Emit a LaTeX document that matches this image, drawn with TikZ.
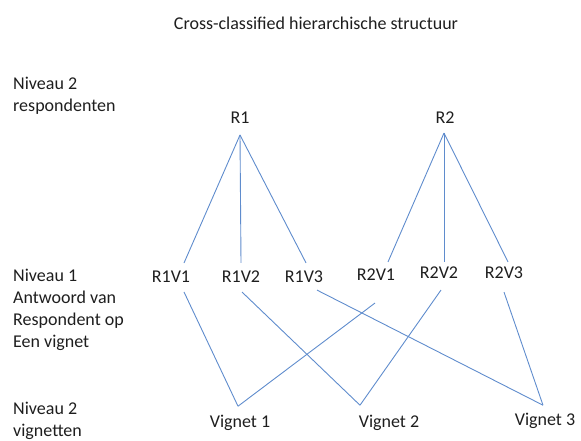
\documentclass[tikz,border=0pt]{standalone}
\usepackage{fontspec}
\setmainfont{Carlito}
\definecolor{linkblue}{RGB}{95,140,205}
\definecolor{txt}{RGB}{30,30,30}
\begin{document}
\begin{tikzpicture}[x=1pt, y=1pt, font=\fontsize{18}{22}\selectfont, text=txt,
  main/.style = {inner sep=0pt},
  levelbox/.style = {inner sep=0pt, align=left, anchor=north west},
  vig/.style = {inner sep=0pt, anchor=base},
  link/.style = {draw=linkblue, line width=0.9pt}]
  \useasboundingbox (0,0) rectangle (581,441);

  \node[main] (title) at (316,418) {Cross-classified hierarchische structuur};

  % levels at the left
  \node[levelbox] (lvresp) at (13,364) {Niveau 2\\respondenten};
  \node[levelbox] (lvone) at (13,172) {Niveau 1\\Antwoord van\\Respondent op\\Een vignet};
  \node[levelbox] (lvvig) at (13,39) {Niveau 2\\vignetten};

  % respondents
  \node[main] (r1) at (240,323) {R1};
  \node[main] (r2) at (445,323) {R2};

  % answers
  \node[main] (r1v1) at (171,164) {R1V1};
  \node[main] (r1v2) at (241,164) {R1V2};
  \node[main] (r1v3) at (304,164) {R1V3};
  \node[main] (r2v1) at (376,166) {R2V1};
  \node[main] (r2v2) at (439,168) {R2V2};
  \node[main] (r2v3) at (504,168) {R2V3};

  % vignettes
  \node[vig] (v1) at (240,13.2) {Vignet 1};
  \node[vig] (v2) at (389,13.2) {Vignet 2};
  \node[vig] (v3) at (545,15.2) {Vignet 3};

  \draw[link] ([yshift=-11pt]r1.south) -- ([xshift=13pt,yshift=8pt]r1v1.north);
  \draw[link] ([yshift=-11pt]r1.south) -- ([yshift=8pt]r1v2.north);
  \draw[link] ([yshift=-11pt]r1.south) -- ([xshift=2pt,yshift=8pt]r1v3.north);
  \draw[link] ([xshift=-1pt,yshift=-9pt]r2.south) -- ([xshift=12pt,yshift=7pt]r2v1.north);
  \draw[link] ([xshift=-1pt,yshift=-9pt]r2.south) -- ([xshift=5pt,yshift=5pt]r2v2.north);
  \draw[link] ([xshift=-1pt,yshift=-9pt]r2.south) -- ([xshift=4pt,yshift=5pt]r2v3.north);

  \draw[link] ([xshift=13pt,yshift=-9pt]r1v1.south) -- ([xshift=-2pt,yshift=9pt]v1.north);
  \draw[link] ([xshift=-1pt,yshift=-22pt]r2v1.south) -- ([xshift=-2pt,yshift=9pt]v1.north);
  \draw[link] ([xshift=1pt,yshift=-9pt]r1v2.south) -- ([xshift=-29pt,yshift=10pt]v2.north);
  \draw[link] ([xshift=2pt,yshift=-11pt]r2v2.south) -- ([xshift=-29pt,yshift=10pt]v2.north);
  \draw[link] ([xshift=13pt,yshift=-7pt]r1v3.south) -- ([xshift=-2pt,yshift=8pt]v3.north);
  \draw[link] ([yshift=-13pt]r2v3.south) -- ([xshift=-2pt,yshift=8pt]v3.north);
\end{tikzpicture}
\end{document}
